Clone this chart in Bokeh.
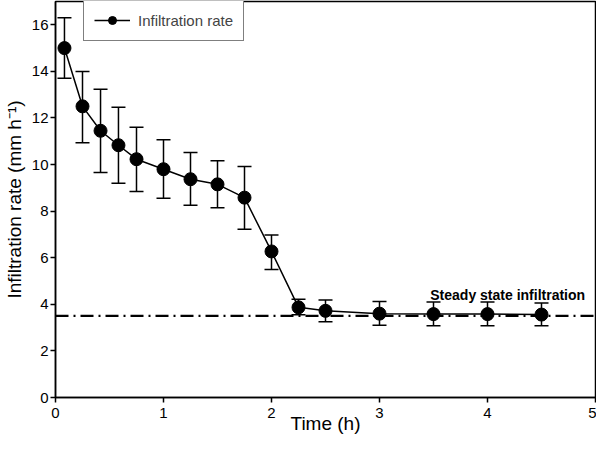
from bokeh.plotting import figure
from bokeh.models import ColumnDataSource, Whisker, TeeHead, Span, Legend, LegendItem, Label, FixedTicker
from bokeh.embed import file_html
from bokeh.resources import INLINE

time_h = [0.083, 0.25, 0.417, 0.583, 0.75, 1.0, 1.25, 1.5, 1.75, 2.0, 2.25, 2.5, 3.0, 3.5, 4.0, 4.5]
rate = [15.0, 12.5, 11.45, 10.83, 10.23, 9.8, 9.37, 9.15, 8.58, 6.27, 3.87, 3.72, 3.6, 3.58, 3.58, 3.56]
upper = [16.3, 14.0, 13.23, 12.46, 11.6, 11.07, 10.52, 10.16, 9.92, 6.98, 4.22, 4.19, 4.12, 4.1, 4.1, 4.06]
lower = [13.7, 10.94, 9.66, 9.2, 8.84, 8.55, 8.25, 8.15, 7.22, 5.5, 3.55, 3.25, 3.1, 3.08, 3.08, 3.08]
steady_rate = 3.5
steady_label = "Steady state infiltration"
x_title = "Time (h)"
y_title = "Infiltration rate (mm h\u207b\u00b9)"
x_ticks = [0, 1, 2, 3, 4, 5]
y_ticks = [0, 2, 4, 6, 8, 10, 12, 14, 16]

FONT = "Liberation Sans"

src = ColumnDataSource(dict(x=time_h, y=rate, upper=upper, lower=lower))

p = figure(width=596, height=441, x_range=(0, 5), y_range=(0, 17),
           output_backend="svg", toolbar_location=None,
           min_border_left=52, min_border_right=1, min_border_top=1, min_border_bottom=44)

p.xgrid.visible = False
p.ygrid.visible = False
p.outline_line_color = "black"
p.outline_line_width = 1.5

for ax in (p.xaxis[0], p.yaxis[0]):
    ax.axis_line_color = "black"
    ax.axis_line_width = 1.5
    ax.major_tick_line_width = 1.5
    ax.major_tick_out = 5
    ax.major_tick_in = 0
    ax.minor_tick_line_color = None
    ax.major_label_text_font = FONT
    ax.major_label_text_font_size = "15px"
    ax.major_label_text_color = "black"
    ax.axis_label_text_font = FONT
    ax.axis_label_text_font_style = "normal"
    ax.axis_label_text_font_size = "19px"
    ax.axis_label_text_color = "black"

p.xaxis.ticker = FixedTicker(ticks=x_ticks)
p.yaxis.ticker = FixedTicker(ticks=y_ticks)
p.xaxis.axis_label = x_title
p.yaxis.axis_label = y_title
p.xaxis.major_label_standoff = 5
p.xaxis.axis_label_standoff = -8
p.yaxis.major_label_standoff = 2
p.yaxis.axis_label_standoff = 4

span = Span(location=steady_rate, dimension="width", line_color="black",
            line_width=2.2, line_dash="13 5 2 5")
p.add_layout(span)

wh = Whisker(source=src, base="x", upper="upper", lower="lower", dimension="height",
             line_color="black", line_width=1.5,
             upper_head=TeeHead(size=14, line_color="black", line_width=1.5),
             lower_head=TeeHead(size=14, line_color="black", line_width=1.5))
p.add_layout(wh)

ln = p.line("x", "y", source=src, line_color="black", line_width=1.5)
sc = p.scatter("x", "y", source=src, size=13, fill_color="black", line_color="black")

lbl = Label(x=3.47, y=4.38, text=steady_label, text_font=FONT, text_font_style="bold",
            text_font_size="14px", text_color="black", text_baseline="alphabetic")
p.add_layout(lbl)

legend = Legend(items=[LegendItem(label="Infiltration rate", renderers=[ln, sc])],
                location=(28, 356), label_text_font=FONT, label_text_font_size="15px",
                glyph_width=36, glyph_height=20, label_height=20, label_standoff=8,
                padding=10, spacing=0, margin=0,
                border_line_color="black", border_line_width=1.2,
                background_fill_alpha=1.0)
p.add_layout(legend)

open("out.html", "w").write(file_html(p, INLINE))
